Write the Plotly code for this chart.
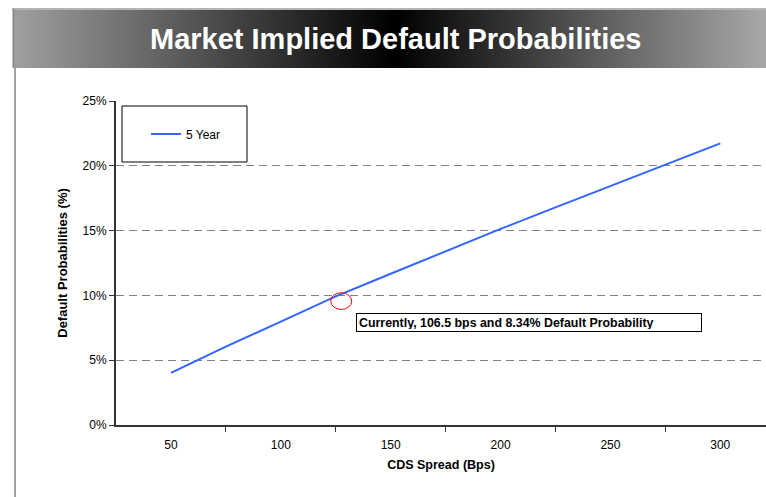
import plotly.graph_objects as go

# CDS spread (bps) vs 5 year implied default probability
spread_bps = [50, 75, 100, 125, 150, 175, 200, 225, 250, 275, 300]
default_prob = [0.0402, 0.0605, 0.0798, 0.0992, 0.1167, 0.1340, 0.1513, 0.1679, 0.1844, 0.2010, 0.2173]

x_ticks = [50, 100, 150, 200, 250, 300]
x_minor = [75, 125, 175, 225, 275]
y_ticks = [0, 0.05, 0.10, 0.15, 0.20, 0.25]

W, H = 766, 497
FONT = "Liberation Sans, Arial, sans-serif"


def px(x):
    return x / W


def py(y):
    return 1 - y / H


fig = go.Figure()
fig.add_trace(go.Scatter(
    x=spread_bps, y=default_prob, mode="lines", name="5 Year",
    line=dict(color="#3366FF", width=2),
))

shapes = []

# title banner: grey -> black -> grey gradient made of thin strips
left, right, mid = 13, 766, 395
step = 3
for x0 in range(left, right, step):
    xc = x0 + step / 2
    if xc <= mid:
        g = 160 * (mid - xc) / (mid - left)
    else:
        g = 168 * (xc - mid) / (right - mid)
    g = int(round(g))
    shapes.append(dict(type="rect", xref="paper", yref="paper",
                       x0=px(x0), x1=min(px(x0 + step + 0.5), 1),
                       y0=py(68), y1=py(10),
                       fillcolor=f"rgb({g},{g},{g})", line=dict(width=0),
                       layer="below"))

# page frame lines
shapes.append(dict(type="line", xref="paper", yref="paper",
                   x0=px(12), x1=1, y0=py(9), y1=py(9),
                   line=dict(color="#b4b4b4", width=2)))
shapes.append(dict(type="line", xref="paper", yref="paper",
                   x0=px(13.5), x1=px(13.5), y0=py(9), y1=py(68),
                   line=dict(color="#8a8a8a", width=2)))
shapes.append(dict(type="line", xref="paper", yref="paper",
                   x0=px(15), x1=px(15), y0=py(68), y1=0,
                   line=dict(color="#a0a0a0", width=2)))

# legend frame
shapes.append(dict(type="rect", xref="paper", yref="paper",
                   x0=px(122), x1=px(247), y0=py(162), y1=py(106),
                   line=dict(color="black", width=1), fillcolor="white"))

# red circle marking the current point
shapes.append(dict(type="circle", xref="x", yref="y",
                   x0=122.7, x1=132.3, y0=0.0892, y1=0.1020,
                   line=dict(color="red", width=1)))

fig.update_layout(
    width=W, height=H,
    margin=dict(l=0, r=0, t=0, b=0),
    paper_bgcolor="white", plot_bgcolor="rgba(0,0,0,0)",
    font=dict(family=FONT, size=12, color="black"),
    shapes=shapes,
    showlegend=True,
    legend=dict(x=px(146), y=py(134), xanchor="left", yanchor="middle",
                bgcolor="rgba(0,0,0,0)", borderwidth=0,
                font=dict(size=12, family=FONT)),
    annotations=[
        dict(text="<b>Market Implied Default Probabilities</b>",
             xref="paper", yref="paper", x=px(396), y=py(39),
             xanchor="center", yanchor="middle",
             showarrow=False, font=dict(size=29, color="white", family=FONT)),
        dict(text="<b>Currently, 106.5 bps and 8.34% Default Probability</b>",
             xref="paper", yref="paper", x=px(356), y=py(313),
             xanchor="left", yanchor="top", align="left",
             width=340, height=13, borderpad=2,
             bordercolor="black", borderwidth=1, bgcolor="white",
             showarrow=False, font=dict(size=12.4, family=FONT)),
    ],
    xaxis=dict(
        domain=[px(116), 1], range=[25, 320.8],
        tickvals=x_ticks, ticks="", showgrid=False, zeroline=False,
        showline=True, linecolor="#333333", linewidth=2,
        ticklabelstandoff=8,
        minor=dict(tickvals=x_minor, ticks="outside", ticklen=5,
                   tickcolor="#333333", showgrid=False),
        title=dict(text="<b>CDS Spread (Bps)</b>", standoff=9,
                   font=dict(size=12.5)),
        automargin=False,
    ),
    yaxis=dict(
        domain=[py(425), py(101)], range=[0, 0.25],
        tickvals=y_ticks, tickformat=".0%", ticks="outside", ticklen=5,
        tickcolor="#333333", showgrid=True, gridcolor="#808080",
        griddash="8px,5px", gridwidth=1, zeroline=False,
        showline=True, linecolor="#333333", linewidth=2,
        title=dict(text="<b>Default Probabilities (%)</b>", standoff=12,
                   font=dict(size=13)),
        automargin=False,
    ),
)

# drop the default page margin so the figure fills the window exactly
fig.write_html("out.html", config={"displayModeBar": False},
               post_script="document.body.style.margin='0';"
                           "document.body.style.overflow='hidden';")
